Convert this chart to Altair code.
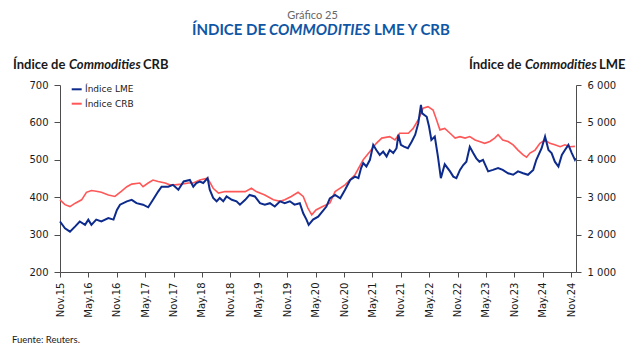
import altair as alt
import pandas as pd

# ---------------- data ----------------
lme_dates = [
    "2015-11-01", "2015-12-03", "2016-01-04", "2016-02-07", "2016-03-07", "2016-04-10", "2016-05-01", "2016-05-21",
    "2016-06-21", "2016-07-24", "2016-09-07", "2016-10-10", "2016-11-01", "2016-11-21", "2017-01-04", "2017-02-04",
    "2017-03-07", "2017-04-18", "2017-05-21", "2017-06-21", "2017-07-24", "2017-08-15", "2017-09-27", "2017-10-27",
    "2017-12-01", "2018-01-04",
    "2018-02-13", "2018-03-07", "2018-03-27", "2018-04-18", "2018-05-10", "2018-06-07", "2018-06-21", "2018-07-13",
    "2018-08-04", "2018-08-24", "2018-09-16", "2018-10-07", "2018-11-10", "2018-12-10", "2019-01-01", "2019-02-04",
    "2019-03-04", "2019-04-07", "2019-05-10", "2019-06-10", "2019-07-13", "2019-08-13", "2019-09-16", "2019-10-16",
    "2019-11-18", "2019-12-18", "2020-01-21", "2020-02-12", "2020-03-04", "2020-03-18", "2020-04-15", "2020-05-18",
    "2020-07-10", "2020-08-01", "2020-09-04", "2020-10-07", "2020-11-07", "2020-12-10", "2021-01-10", "2021-02-01",
    "2021-02-18", "2021-03-04", "2021-03-24", "2021-04-16", "2021-05-07", "2021-05-27", "2021-06-18", "2021-07-10",
    "2021-08-01", "2021-08-21", "2021-09-13", "2021-10-04", "2021-10-16", "2021-11-01", "2021-11-21", "2021-12-16",
    "2022-01-10", "2022-02-01", "2022-02-21", "2022-03-10", "2022-03-18", "2022-04-16", "2022-05-01", "2022-05-16",
    "2022-06-07", "2022-06-27", "2022-07-16", "2022-08-10",
    "2022-09-13", "2022-10-04", "2022-10-24", "2022-11-16", "2022-12-07", "2022-12-27", "2023-01-18", "2023-02-09",
    "2023-03-01", "2023-03-21", "2023-04-13", "2023-05-16", "2023-06-16", "2023-07-19", "2023-08-18", "2023-09-21",
    "2023-10-24", "2023-11-24", "2023-12-27", "2024-01-27", "2024-03-01", "2024-03-21", "2024-04-24", "2024-05-16",
    "2024-06-07", "2024-06-27", "2024-07-18", "2024-08-10", "2024-09-01", "2024-09-21", "2024-10-13", "2024-11-04",
    "2024-11-24", "2024-11-29",
]
lme_values = [
    2350, 2170, 2080, 2220, 2350, 2260, 2400, 2260, 2400, 2350, 2440, 2400, 2660, 2800, 2890, 2930,
    2840, 2800, 2730, 2930, 3150, 3280, 3280, 3330, 3200, 3420,
    3460, 3280, 3380, 3420, 3380, 3510, 3200, 2980, 2890, 2980, 2890, 3020, 2930, 2890, 2800, 2930,
    3060, 3020, 2840, 2800, 2840, 2750, 2890, 2840, 2890, 2800, 2840, 2570, 2400, 2260, 2400, 2480,
    2750, 2970, 3060, 2970, 3200, 3460, 3550, 3510, 3780, 3910, 3820, 4000, 4400, 4260, 4130, 4220,
    4090, 4260, 4180, 4310, 4670, 4400, 4350, 4310, 4490, 4670, 4980, 5470, 5240, 5150, 4890, 4530,
    4620, 4090, 3510, 3880,
    3690, 3550, 3510, 3730, 3860, 3950, 4350, 4180, 4040, 3950, 4000, 3690, 3730, 3780, 3730, 3640,
    3600, 3690, 3640, 3600, 3730, 4000, 4310, 4620, 4260, 4180, 3950, 3820, 4130, 4260, 4400, 4180,
    4000, 4040,
]

crb_dates = [
    "2015-11-01", "2015-12-03", "2016-01-04", "2016-02-07", "2016-03-19", "2016-04-19", "2016-05-21", "2016-06-21",
    "2016-07-24", "2016-09-07", "2016-10-19", "2016-12-01", "2017-01-04", "2017-02-04", "2017-03-28", "2017-04-18",
    "2017-05-21", "2017-06-21", "2017-07-24", "2017-09-07", "2017-10-07", "2017-11-10", "2017-12-21", "2018-02-04",
    "2018-03-07", "2018-04-18", "2018-06-07", "2018-07-13", "2018-08-16", "2018-09-27", "2018-12-01", "2019-02-04",
    "2019-03-16", "2019-04-16", "2019-06-10", "2019-08-04", "2019-09-16", "2019-10-16", "2019-11-27", "2020-01-10",
    "2020-02-12", "2020-03-13", "2020-04-07", "2020-05-04",
    "2020-06-16", "2020-08-01", "2020-09-04", "2020-11-07", "2021-01-10", "2021-03-04", "2021-04-16", "2021-05-27",
    "2021-07-01", "2021-08-21", "2021-09-24", "2021-10-24", "2021-12-19", "2022-01-19", "2022-02-21", "2022-03-24",
    "2022-04-24", "2022-05-27", "2022-06-18", "2022-07-10", "2022-08-10",
    "2022-09-13", "2022-10-16", "2022-11-16", "2022-12-19", "2023-01-18", "2023-02-21", "2023-03-21", "2023-04-24",
    "2023-05-27", "2023-06-27", "2023-07-19", "2023-08-18", "2023-09-21", "2023-10-24", "2023-11-24", "2023-12-27",
    "2024-01-18", "2024-02-09", "2024-03-13", "2024-04-13", "2024-05-16", "2024-06-16", "2024-07-18", "2024-08-21",
    "2024-09-21", "2024-10-24", "2024-11-24",
]
crb_values = [
    393, 380, 375, 384, 393, 413, 418, 416, 413, 406, 402, 416, 428, 435, 438, 428,
    438, 446, 442, 438, 433, 433, 435, 438,
    438, 446, 451, 424, 411, 415, 415, 415, 424, 415, 406, 393, 389, 393, 402, 413,
    402, 371, 353, 366,
    375, 384, 415, 433, 460, 500, 522, 544, 558, 562, 553, 571, 571, 584, 607, 638,
    642, 633, 607, 580, 584,
    571, 558, 562, 558, 562, 553, 549, 544, 549, 558, 567, 553, 549, 540, 526, 513,
    507, 518, 526, 544, 553, 544, 540, 535, 540, 535, 536,
]

tick_months = [(2015 + (10 + 6 * i) // 12, (10 + 6 * i) % 12 + 1) for i in range(19)]
crb_ticks = [200, 300, 400, 500, 600, 700]
lme_ticks = [1000, 2000, 3000, 4000, 5000, 6000]

lme_df = pd.DataFrame({"fecha": lme_dates, "valor": lme_values})
crb_df = pd.DataFrame({"fecha": crb_dates, "valor": crb_values})

# ---------------- styles ----------------
NAVY = "#0d2b8c"
RED = "#ff5757"
AXIS = "#4d4d4d"
TITLE_BLUE = "#0f56a6"
HUM = "Lato"
TICKFONT = "DejaVu Sans"

x_scale = alt.Scale(
    type="utc",
    domain=[alt.DateTime(year=2015, month=11, date=1, utc=True),
            alt.DateTime(year=2024, month=12, date=1, utc=True)],
)
x_axis = alt.Axis(
    values=[alt.DateTime(year=y, month=m, date=1, utc=True) for y, m in tick_months],
    labelExpr="utcFormat(datum.value, '%b.%y')",
    labelAngle=270, labelFont=TICKFONT, labelFontSize=10, labelColor="#1a1a1a",
    labelPadding=5, tickSize=5, tickColor=AXIS, domainColor=AXIS, grid=False, title=None,
    labelOverlap=False, labelFlush=False,
)
x_enc = alt.X("fecha:T", scale=x_scale, axis=x_axis)

crb_line = alt.Chart(crb_df).mark_line(color=RED, strokeWidth=1.6).encode(
    x=x_enc,
    y=alt.Y("valor:Q", scale=alt.Scale(domain=[200, 700], nice=False, zero=False),
            axis=alt.Axis(orient="left", values=crb_ticks, title=None, grid=False,
                          tickSize=6, tickColor=AXIS, domainColor=AXIS,
                          labelFont=TICKFONT, labelFontSize=10, labelColor="#1a1a1a",
                          labelPadding=6)),
)
lme_line = alt.Chart(lme_df).mark_line(color=NAVY, strokeWidth=2).encode(
    x=x_enc,
    y=alt.Y("valor:Q", scale=alt.Scale(domain=[1000, 6000], nice=False, zero=False),
            axis=alt.Axis(orient="right", values=lme_ticks, title=None, grid=False,
                          tickSize=5, tickColor=AXIS, domainColor=AXIS,
                          labelFont=TICKFONT, labelFontSize=10, labelColor="#1a1a1a",
                          labelPadding=6,
                          labelExpr="replace(format(datum.value, ',d'), ',', ' ')")),
)

one = pd.DataFrame({"k": [0]})


def txt(s, x, y, size, color="#1a1a1a", weight="normal", style="normal", align="left", font=HUM):
    return alt.Chart(one).mark_text(
        text=s, align=align, baseline="middle", font=font, fontSize=size,
        fontWeight=weight, fontStyle=style, color=color,
    ).encode(x=alt.value(x), y=alt.value(y))


def rule(x1, x2, y, color, w):
    return alt.Chart(one).mark_rule(color=color, strokeWidth=w).encode(
        x=alt.value(x1), x2=alt.value(x2), y=alt.value(y))


texts = [
    txt("Gráfico 25", 252.5, -69.5, 11, color="#666666", align="center"),
    txt("ÍNDICE DE", 132, -55.5, 15, color=TITLE_BLUE, weight="bold"),
    txt("COMMODITIES", 209, -55.5, 15, color=TITLE_BLUE, weight="bold", style="italic"),
    txt("LME Y CRB", 314, -55.5, 15, color=TITLE_BLUE, weight="bold"),
    txt("Índice de", -47, -19.7, 13, weight="bold"),
    txt("Commodities", 9, -19.7, 13, weight="bold", style="italic"),
    txt("CRB", 83, -19.7, 13, weight="bold"),
    txt("Índice de", 409, -19.7, 13, weight="bold"),
    txt("Commodities", 465, -19.7, 13, weight="bold", style="italic"),
    txt("LME", 539, -19.7, 13, weight="bold"),
    rule(11.7, 21.7, 4.3, NAVY, 2),
    txt("Índice LME", 25, 4.3, 9, font=TICKFONT),
    rule(11.7, 21.7, 18.7, RED, 2),
    txt("Índice CRB", 25, 18.7, 9, font=TICKFONT),
    txt("Fuente: Reuters.", -48, 255, 9.5),
]

chart = alt.layer(crb_line, lme_line, *texts).resolve_scale(y="independent").properties(
    width=516, height=187,
    padding={"left": 52, "top": 77, "right": 56, "bottom": 75},
    autosize=alt.AutoSizeParams(type="none"),
    background="white",
).configure_view(stroke=None)

chart.save("out.html", embed_options={"renderer": "svg", "actions": False})
